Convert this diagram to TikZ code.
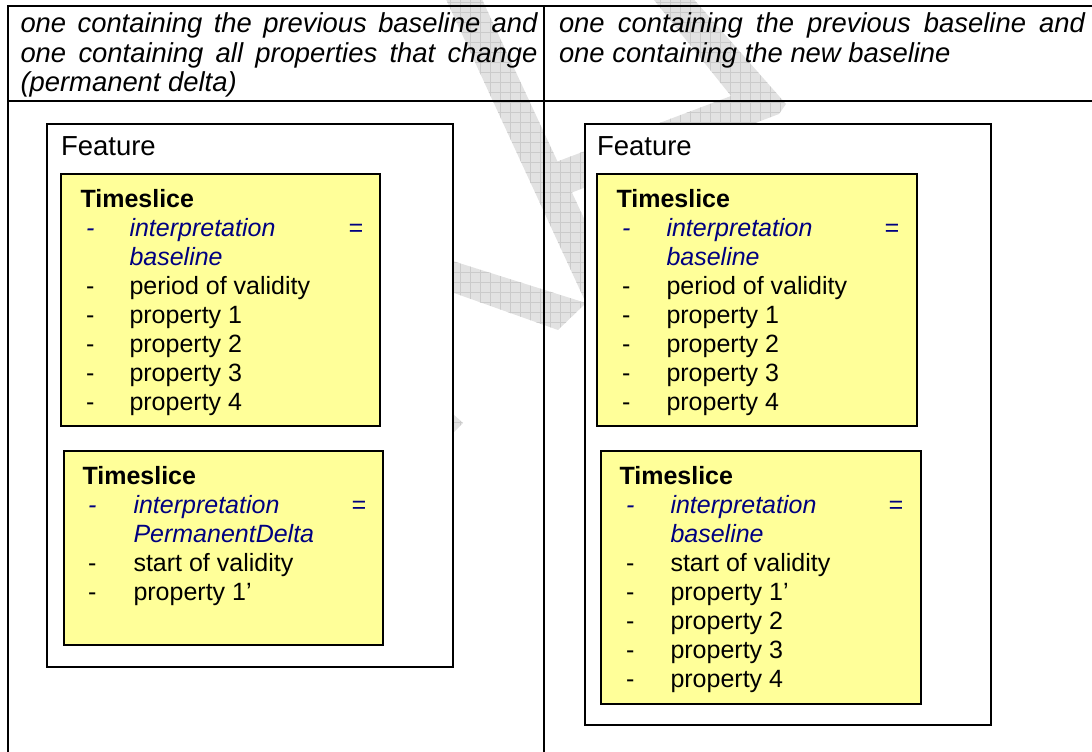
\documentclass[tikz,border=0pt]{standalone}
\usepackage{fontspec}
\setmainfont{Liberation Sans}
\usetikzlibrary{patterns.meta}

\definecolor{tsyellow}{RGB}{255,255,153}
\definecolor{navytext}{RGB}{0,0,128}
\definecolor{stampfill}{RGB}{226,226,226}
\definecolor{stampline}{RGB}{203,203,203}

\tikzset{
  stamp/.style={fill=stampfill,
    postaction={pattern={Lines[angle=0,distance=10pt,line width=.6pt]}, pattern color=stampline},
    postaction={pattern={Lines[angle=90,distance=10pt,line width=.6pt]}, pattern color=stampline}},
  cell/.style={draw=black, line width=2pt, inner sep=0pt, outer sep=0pt, anchor=north west},
  featurebox/.style={draw=black, fill=white, line width=1.7pt, inner sep=0pt, outer sep=0pt, anchor=north west},
  slicebox/.style={draw=black, fill=tsyellow, line width=2pt, inner sep=0pt, outer sep=0pt, anchor=north west},
  txt/.style={inner sep=0pt, outer sep=0pt, anchor=base west, font=\fontsize{25}{29}\selectfont},
  hdr/.style={txt, font=\fontsize{27.4}{31}\selectfont\itshape},
  featlabel/.style={txt, font=\fontsize{27.5}{32}\selectfont},
  tshead/.style={txt, font=\fontsize{25}{29}\selectfont\bfseries},
  item/.style={txt},
  interp/.style={txt, text=navytext, font=\fontsize{25}{29}\selectfont\itshape},
  eqsign/.style={interp, anchor=base east},
}

\begin{document}
\begin{tikzpicture}[x=1pt,y=-1pt]
\useasboundingbox (0,0) rectangle (1092,752);
\begin{scope}
\clip (0,0) rectangle (1092,752);

% faint stamp strokes in the background
\path[stamp] (444,-5) -- (480,-5) -- (622,300) -- (586,303) -- cycle;
\path[stamp] (650,-5) -- (690,-5) -- (786,104) -- (779,114) -- (560,197) -- (548,165) -- (731,96) -- cycle;
\path[stamp] (440,257) -- (586,303) -- (558,330) -- (440,288) -- cycle;
\path[stamp] (430,411) -- (453,414) -- (463,423) -- (453,433) -- (430,434) -- cycle;

% table cells
\node[cell, minimum width=536.5pt, minimum height=94.5pt] (hdrL) at (7.5,6.5) {};
\node[cell, minimum width=570pt, minimum height=94.5pt] (hdrR) at (544,6.5) {};
\node[cell, minimum width=536.5pt, minimum height=700pt] (bodyL) at (7.5,101) {};
\node[cell, minimum width=570pt, minimum height=700pt] (bodyR) at (544,101) {};

% header texts
\node[hdr] (hL1) at (20.5,33) {\makebox[517pt][s]{one containing the previous baseline and}};
\node[hdr] (hL2) at (20.5,62.5) {\makebox[517pt][s]{one containing all properties that change}};
\node[hdr] (hL3) at (20.5,92) {(permanent delta)};
\node[hdr] (hR1) at (559,33) {\makebox[526pt][s]{one containing the previous baseline and}};
\node[hdr] (hR2) at (559,62.5) {one containing the new baseline};

% feature containers
\node[featurebox, minimum width=406pt, minimum height=543pt] (featL) at (47,124) {};
\node[featurebox, minimum width=406pt, minimum height=601pt] (featR) at (585,124) {};
\node[featlabel] (featLlab) at (61,155) {Feature};
\node[featlabel] (featRlab) at (597,155) {Feature};

% timeslice boxes
\node[slicebox, minimum width=319pt, minimum height=252pt] (tsL1) at (61,174) {};
\node[slicebox, minimum width=319pt, minimum height=194pt] (tsL2) at (64,451) {};
\node[slicebox, minimum width=320pt, minimum height=252pt] (tsR1) at (597,174) {};
\node[slicebox, minimum width=320pt, minimum height=253pt] (tsR2) at (601,451) {};

% left column, first timeslice
\node[tshead] (tsL1h) at (80.5,207) {Timeslice};
\node[interp] (tsL1d0) at (86,236) {-};
\node[interp] (tsL1i) at (129.5,236) {interpretation};
\node[eqsign] (tsL1eq) at (363,236) {=};
\node[interp] (tsL1b) at (129.5,265) {baseline};
\foreach \t [count=\k] in {period of validity, property 1, property 2, property 3, property 4} {
  \node[item] (tsL1d\k) at (86,265+29*\k) {-};
  \node[item] (tsL1p\k) at (129.5,265+29*\k) {\t};
}

% left column, second timeslice
\node[tshead] (tsL2h) at (82.5,484) {Timeslice};
\node[interp] (tsL2d0) at (88,513) {-};
\node[interp] (tsL2i) at (133.5,513) {interpretation};
\node[eqsign] (tsL2eq) at (366,513) {=};
\node[interp] (tsL2b) at (133.5,542) {PermanentDelta};
\node[item] (tsL2d1) at (88,571) {-};
\node[item] (tsL2p1) at (133.5,571) {start of validity};
\node[item] (tsL2d2) at (88,600) {-};
\node[item] (tsL2p2) at (133.5,600) {property 1’};

% right column, first timeslice
\node[tshead] (tsR1h) at (616.5,207) {Timeslice};
\node[interp] (tsR1d0) at (622,236) {-};
\node[interp] (tsR1i) at (666.5,236) {interpretation};
\node[eqsign] (tsR1eq) at (899,236) {=};
\node[interp] (tsR1b) at (666.5,265) {baseline};
\foreach \t [count=\k] in {period of validity, property 1, property 2, property 3, property 4} {
  \node[item] (tsR1d\k) at (622,265+29*\k) {-};
  \node[item] (tsR1p\k) at (666.5,265+29*\k) {\t};
}

% right column, second timeslice
\node[tshead] (tsR2h) at (619.5,484) {Timeslice};
\node[interp] (tsR2d0) at (626,513) {-};
\node[interp] (tsR2i) at (670.5,513) {interpretation};
\node[eqsign] (tsR2eq) at (903,513) {=};
\node[interp] (tsR2b) at (670.5,542) {baseline};
\foreach \t [count=\k] in {start of validity, property 1’, property 2, property 3, property 4} {
  \node[item] (tsR2d\k) at (626,542+29*\k) {-};
  \node[item] (tsR2p\k) at (670.5,542+29*\k) {\t};
}
\end{scope}
\end{tikzpicture}
\end{document}
